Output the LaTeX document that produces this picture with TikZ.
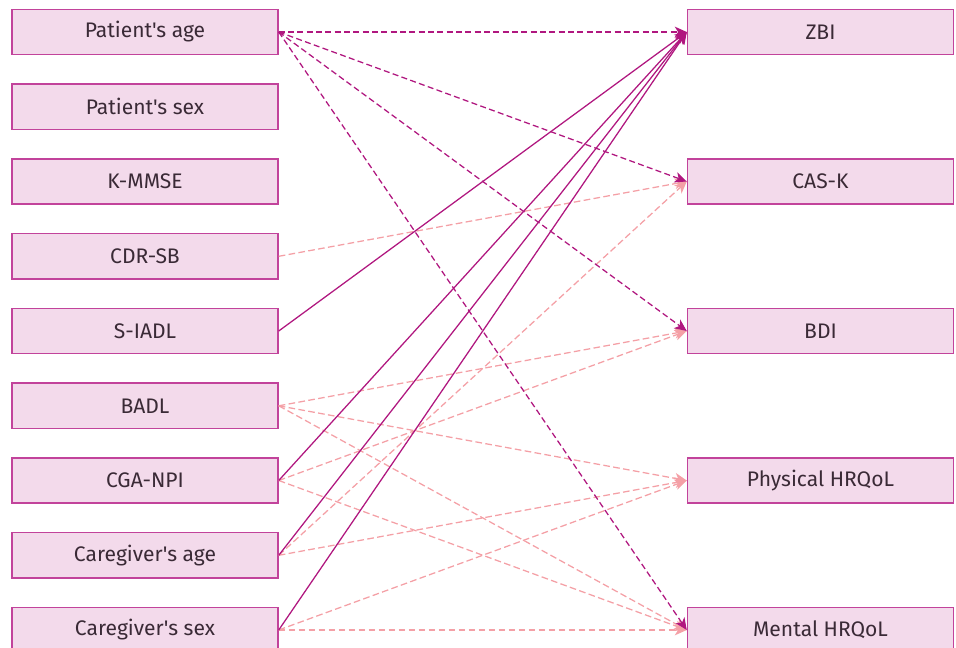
\documentclass[tikz,border=0pt]{standalone}
\usepackage{fontspec}
\setmainfont{Fira Sans}[Ligatures=TeXOff]
\usetikzlibrary{arrows.meta}
\definecolor{boxfill}{HTML}{F3DAEB}
\definecolor{boxdraw}{HTML}{C2439B}
\definecolor{dark}{HTML}{B0177F}
\definecolor{light}{HTML}{F4A0A6}
\definecolor{txt}{HTML}{3A2A36}
\newcommand{\apos}{\char39\relax}
\begin{document}
\begin{tikzpicture}[x=0.75pt,y=-0.75pt,
  var/.style={draw=boxdraw,fill=boxfill,line width=1.1pt,minimum width=199.5pt,minimum height=34pt,inner sep=0pt,text=txt,font=\fontsize{15.8}{17}\selectfont,anchor=center},
  sig/.style={draw=dark,line width=0.95pt,-{Stealth[length=9pt,width=8pt,inset=2.5pt]}},
  sigd/.style={sig,dash pattern=on 4.5pt off 2.5pt},
  ns/.style={draw=light,line width=0.95pt,dash pattern=on 5pt off 2.5pt,-{Stealth[length=9pt,width=8pt,inset=2.5pt]}}]
\useasboundingbox (0,0) rectangle (956,648);
\clip (0,0) rectangle (956,648);
\node[var] (pa) at (145,32) {Patient\apos s age};
\node[var] (ps) at (145,106.8) {Patient\apos s sex};
\node[var] (mm) at (145,181.5) {K-MMSE};
\node[var] (cdr) at (145,256.3) {CDR-SB};
\node[var] (iadl) at (145,331) {S-IADL};
\node[var] (badl) at (145,405.8) {BADL};
\node[var] (npi) at (145,480.5) {CGA-NPI};
\node[var] (cga) at (145,555.3) {Caregiver\apos s age};
\node[var] (cgs) at (145,630) {Caregiver\apos s sex};
\node[var] (zbi) at (820.5,32) {ZBI};
\node[var] (cas) at (820.5,181.5) {CAS-K};
\node[var] (bdi) at (820.5,331) {BDI};
\node[var] (phy) at (820.5,480.5) {Physical HRQoL};
\node[var] (men) at (820.5,630) {Mental HRQoL};
% non-significant (light)
\draw[ns] (cdr.east) -- (cas.west);
\draw[ns] (badl.east) -- (bdi.west);
\draw[ns] (badl.east) -- (phy.west);
\draw[ns] (badl.east) -- (men.west);
\draw[ns] (npi.east) -- (bdi.west);
\draw[ns] (npi.east) -- (men.west);
\draw[ns] (cga.east) -- (cas.west);
\draw[ns] (cga.east) -- (phy.west);
\draw[ns] (cgs.east) -- (phy.west);
\draw[ns] (cgs.east) -- (men.west);
% significant (dark)
\draw[sigd] (pa.east) -- (zbi.west);
\draw[sigd] (pa.east) -- (cas.west);
\draw[sigd] (pa.east) -- (bdi.west);
\draw[sigd] (pa.east) -- (men.west);
\draw[sig] (iadl.east) -- (zbi.west);
\draw[sig] (npi.east) -- (zbi.west);
\draw[sig] (cga.east) -- (zbi.west);
\draw[sig] (cgs.east) -- (zbi.west);
\end{tikzpicture}
\end{document}
